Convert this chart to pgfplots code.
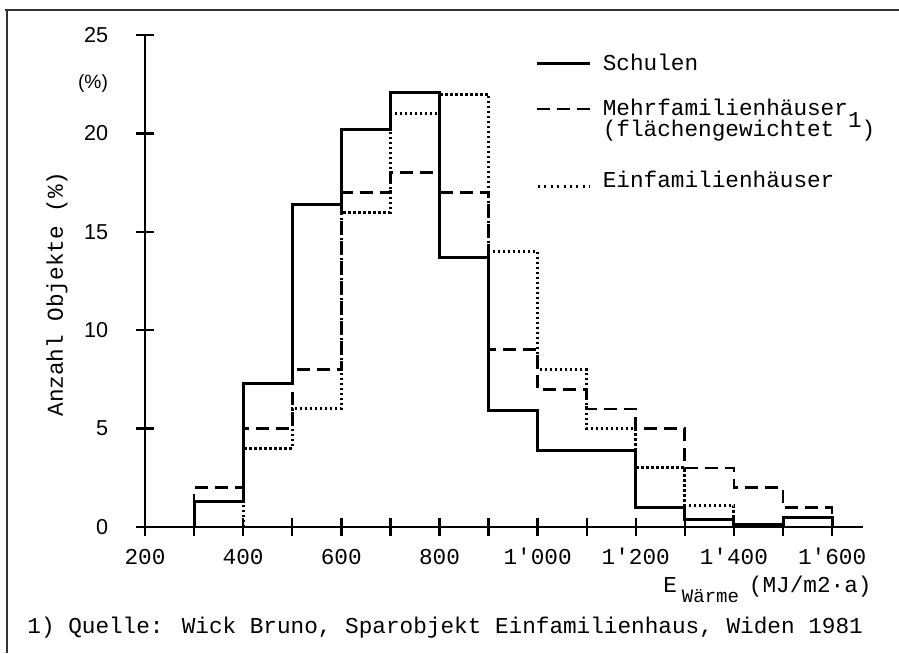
\documentclass[border=0pt]{standalone}
\usepackage{fontspec}
\setmainfont{Liberation Mono}
\newfontfamily\sansf{Liberation Sans}
\usepackage{pgfplots}
\pgfplotsset{compat=1.18}
\newcommand\mfont{\fontsize{11.35}{12}\selectfont}
\begin{document}
\begin{tikzpicture}
\useasboundingbox (0,0) rectangle (449.5pt,326.5pt);
\fill[white] (0,0) rectangle (449.5pt,326.5pt);
\draw[line width=1pt, black!80] (2.5pt,321.5pt) -- (449.5pt,321.5pt);
\draw[line width=1pt, black!80] (3.5pt,321.5pt) -- (3.5pt,0pt);
\begin{axis}[
  at={(72.5pt,63pt)}, anchor=south west,
  scale only axis, width=359pt, height=246pt,
  xmin=200, xmax=1663, ymin=0, ymax=25,
  axis lines=left, axis line style={-, line width=1.4pt},
  tick align=center, major tick length=9pt,
  tick style={line width=1.2pt, black},
  xtick={200,300,...,1600},
  xticklabels={200,,400,,600,,800,,1\textquotesingle 000,,1\textquotesingle 200,,1\textquotesingle 400,,1\textquotesingle 600},
  ytick={0,5,...,25}, yticklabels={0,5,10,15,20,25},
  xticklabel style={font=\mfont, anchor=base, yshift=-14.5pt},
  yticklabel style={font=\sansf\fontsize{10.8}{12}\selectfont, anchor=east, xshift=-10.4pt},
  ylabel={Anzahl Objekte (\%)},
  ylabel style={font=\mfont, at={(axis description cs:-0.1226,0.4736)}, anchor=center},
  xlabel={E\hspace{2.5pt}\raisebox{-5pt}{\fontsize{9.5}{10}\selectfont Wärme}\hspace{5pt}(MJ/m2·a)},
  xlabel style={font=\mfont, at={(axis description cs:1.0125,-0.1341)}, anchor=base east, inner sep=0pt},
  legend style={draw=none, fill=none, font=\mfont, inner sep=0pt, row sep=8.8pt,
    at={(axis description cs:0.5432,0.9695)}, anchor=north west,
    cells={anchor=base west}},
  legend image code/.code={\draw[#1] (0pt,3.5pt) -- (26.5pt,3.5pt); \path (30.2pt,3.5pt);},
]
\addplot[const plot, line width=1.5pt, black] coordinates {(300,0) (300,1.3) (400,7.3) (500,16.4) (600,20.2) (700,22.1) (800,13.7) (900,5.9) (1000,3.9) (1100,3.9) (1200,1.0) (1300,0.4) (1400,0.15) (1500,0.5) (1600,0)};
\addlegendentry{Schulen}
\addplot[const plot, line width=1.4pt, black, dash pattern=on 6.5pt off 3.5pt,
  legend image code/.code={\draw[line width=1.4pt, dash pattern=on 6.5pt off 3.5pt] (0pt,14pt) -- (26.5pt,14pt); \path (30.2pt,14pt);}] coordinates {(300,0) (300,2) (400,5) (500,8) (600,17) (700,18) (800,17) (900,9) (1000,7) (1100,6) (1200,5) (1300,3) (1400,2) (1500,1) (1600,0)};
\addlegendentry{\vbox{\baselineskip=10.5pt\lineskiplimit=-20pt\hbox{Mehrfamilienhäuser}\hbox{(flächengewichtet \smash{\raisebox{4.5pt}{1}})}}}
\addplot[const plot, line width=1.5pt, black, dash pattern=on 1.2pt off 1.3pt,
  legend image code/.code={\draw[line width=1.1pt, dash pattern=on 1pt off 2.2pt] (0.5pt,0.6pt) -- (26.5pt,0.6pt); \path (0pt,3.5pt) (30.2pt,3.5pt);}] coordinates {(400,0) (400,4) (500,6) (600,16) (700,21) (800,22) (900,14) (1000,8) (1100,5) (1200,3) (1300,1.1) (1400,0)};
\addlegendentry{\rule{0pt}{11.1pt}Einfamilienhäuser}
\end{axis}
\node[font=\sansf\fontsize{9.6}{10}\selectfont, inner sep=0pt] at (46.5pt,284.5pt) {(\%)};
\node[font=\mfont, anchor=base west, inner sep=0pt] at (13.5pt,9.5pt) {1) Quelle: Wick Bruno, Sparobjekt Einfamilienhaus, Widen 1981};
\end{tikzpicture}
\end{document}
